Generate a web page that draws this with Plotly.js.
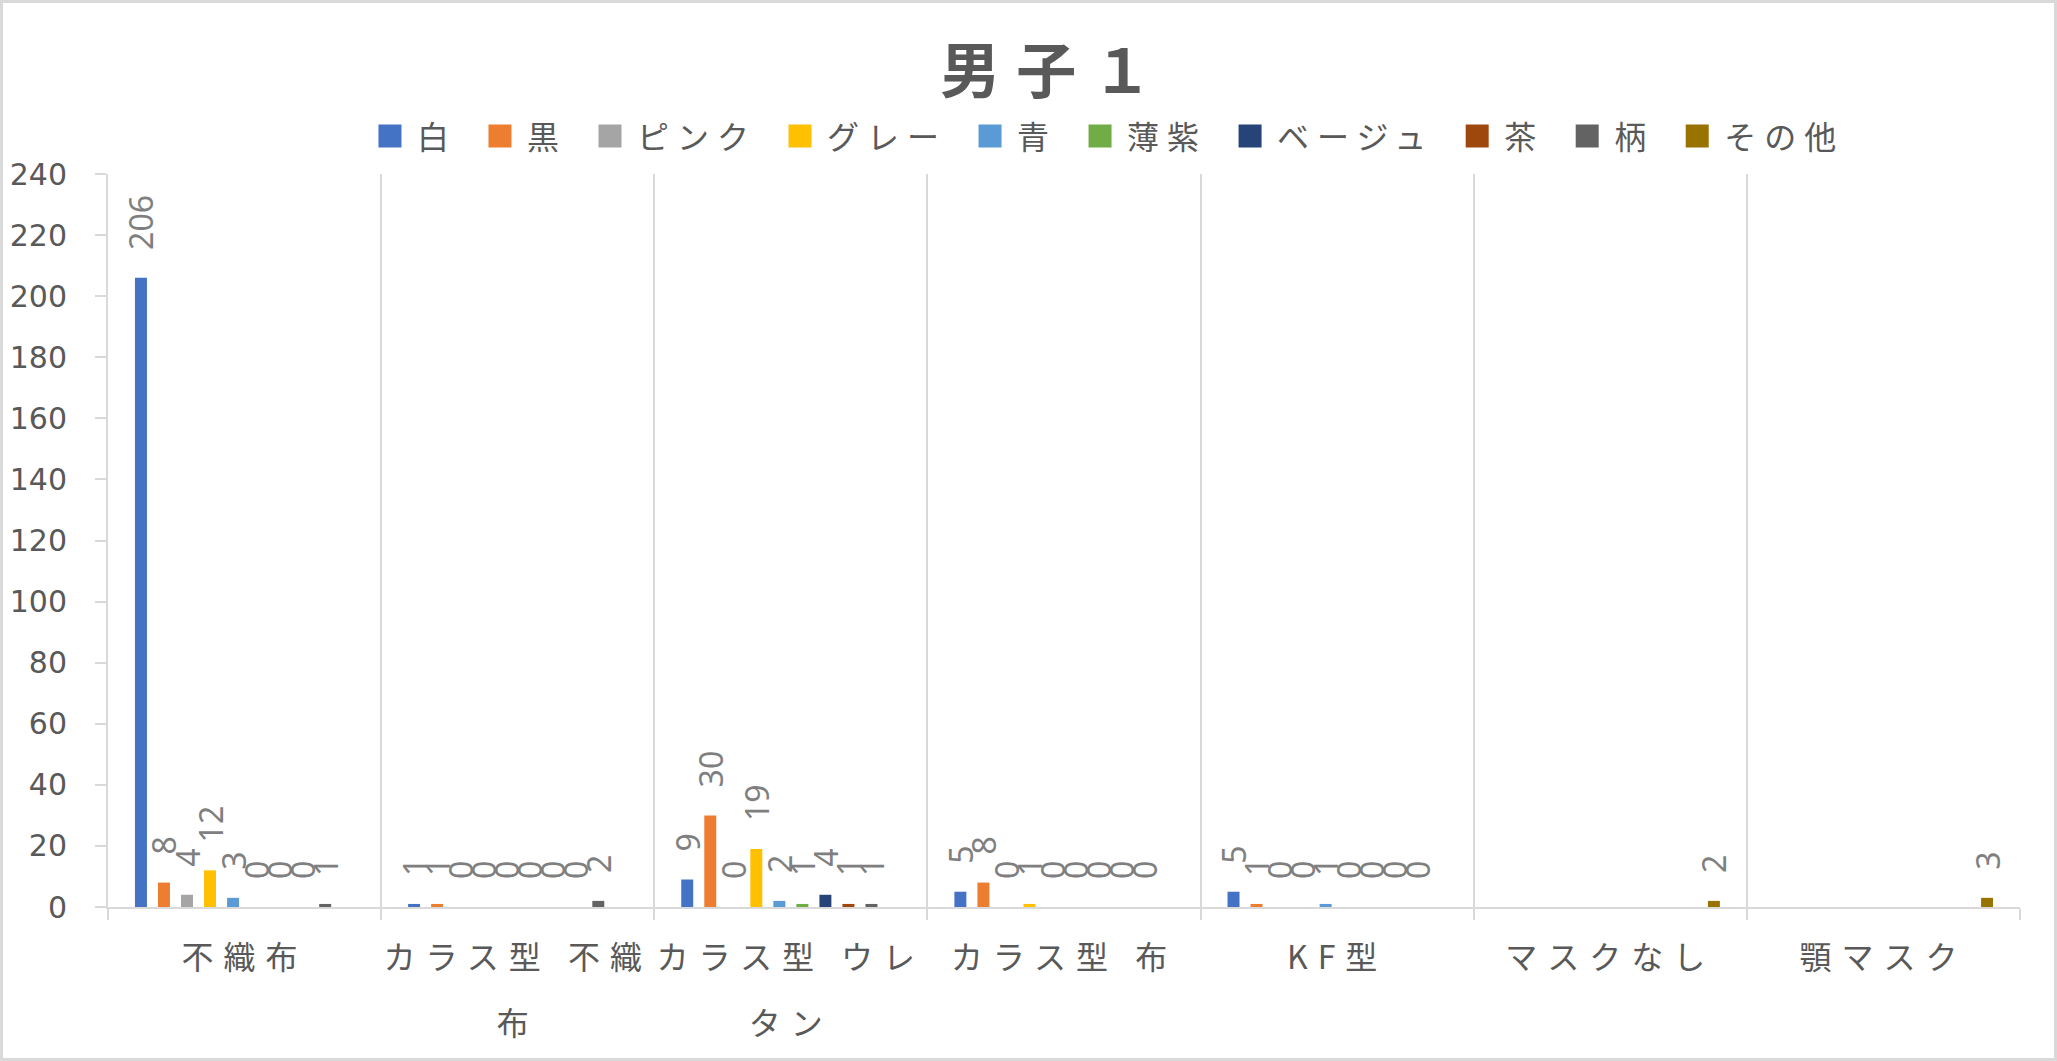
<!DOCTYPE html>
<html><head><meta charset="utf-8">
<script src="https://cdn.plot.ly/plotly-3.0.1.min.js"></script>
<style>
html,body{margin:0;padding:0;background:#fff;overflow:hidden;}
#chart{width:2057px;height:1061px;position:absolute;left:0;top:0;}
#frame{position:absolute;left:0;top:0;width:2057px;height:1061px;box-sizing:border-box;border:3px solid #d9d9d9;pointer-events:none;}
.legendtext{letter-spacing:8px;}
.xtick text{letter-spacing:10px;}
.gtitle{letter-spacing:16px;}
</style></head><body>
<div id="chart"></div><div id="frame"></div>
<script>
const categories = ['不織布','カラス型 不織布','カラス型 ウレタン','カラス型 布','KF型','マスクなし','顎マスク'];
const tickLabels = ['不織布','カラス型 不織<br>布','カラス型 ウレ<br>タン','カラス型 布','KF型','マスクなし','顎マスク'];
const seriesNames = ['白','黒','ピンク','グレー','青','薄紫','ベージュ','茶','柄','その他'];
const white    = [206, 1,  9, 5, 5, null, null];
const black    = [8,   1, 30, 8, 1, null, null];
const pink     = [4,   0,  0, 0, 0, null, null];
const grey     = [12,  0, 19, 1, 0, null, null];
const blue     = [3,   0,  2, 0, 1, null, null];
const lavender = [0,   0,  1, 0, 0, null, null];
const beige    = [0,   0,  4, 0, 0, null, null];
const brown    = [0,   0,  1, 0, 0, null, null];
const pattern  = [1,   2,  1, 0, 0, null, null];
const other    = [null,null,null,null,null, 2, 3];
const yTicks = [0,20,40,60,80,100,120,140,160,180,200,220,240];

const seriesValues = [white, black, pink, grey, blue, lavender, beige, brown, pattern, other];
const colors = ['#4472C4','#ED7D31','#A5A5A5','#FFC000','#5B9BD5','#70AD47','#264478','#9E480E','#636363','#997300'];

const traces = seriesValues.map((vals, i) => ({
  type: 'bar',
  name: seriesNames[i],
  x: categories,
  y: vals,
  marker: {color: colors[i]},
  texttemplate: '\u00a0\u00a0\u00a0%{y}',
  textposition: 'outside',
  textangle: -90,
  constraintext: 'none',
  cliponaxis: false,
  textfont: {family: 'Noto Sans, sans-serif', size: 32, color: '#7f7f7f'},
  hoverinfo: 'skip'
}));

const layout = {
  width: 2057, height: 1061,
  margin: {l: 108, r: 37, t: 174, b: 154},
  paper_bgcolor: '#ffffff', plot_bgcolor: '#ffffff',
  barmode: 'group', bargap: 0.157, bargroupgap: 0.48,
  font: {family: 'Noto Sans CJK JP, sans-serif', color: '#595959'},
  title: {
    text: '<b>男子１</b>',
    font: {family: 'Noto Sans CJK JP, sans-serif', size: 60, color: '#595959'},
    xref: 'container', x: 0.5125, xanchor: 'center',
    yref: 'container', y: 0.932, yanchor: 'middle'
  },
  showlegend: true,
  legend: {
    orientation: 'h', x: 0.1276, xanchor: 'left', y: 1.0515, yanchor: 'middle',
    font: {family: 'Noto Sans CJK JP, sans-serif', size: 32, color: '#595959'},
    itemwidth: 55, traceorder: 'normal', bgcolor: 'rgba(0,0,0,0)'
  },
  xaxis: {
    type: 'category',
    tickmode: 'array', tickvals: categories, ticktext: tickLabels,
    tickson: 'boundaries', ticks: 'outside', ticklen: 11, tickwidth: 2, tickcolor: '#d9d9d9',
    showgrid: true, gridcolor: '#d9d9d9', gridwidth: 2,
    showline: true, linecolor: '#d9d9d9', linewidth: 2,
    tickfont: {family: 'Noto Sans CJK JP, sans-serif', size: 32, color: '#595959'},
    ticklabelstandoff: 22,
    fixedrange: true
  },
  yaxis: {
    range: [0, 240], tickmode: 'array', tickvals: yTicks,
    ticks: 'outside', ticklen: 11, tickwidth: 2, tickcolor: '#d9d9d9',
    showgrid: false, zeroline: false,
    showline: true, linecolor: '#d9d9d9', linewidth: 2,
    tickfont: {family: 'DejaVu Sans, sans-serif', size: 30, color: '#595959'},
    ticklabelstandoff: 22,
    fixedrange: true
  }
};

function fixStyling() {
  document.querySelectorAll('#chart .legend .legendpoints path').forEach(p => {
    p.setAttribute('d', 'M11.5,11.5H-11.5V-11.5H11.5Z');
    p.setAttribute('transform', 'translate(38,0)');
  });
  document.querySelectorAll('#chart .xtick text').forEach(t => {
    t.querySelectorAll('tspan.line').forEach((ln, idx) => {
      if (idx > 0) ln.setAttribute('dy', (idx * 2.06) + 'em');
    });
  });
}

Plotly.newPlot('chart', traces, layout, {displayModeBar: false, staticPlot: true}).then(() => {
  fixStyling();
  setTimeout(fixStyling, 50);
});
</script>
</body></html>
